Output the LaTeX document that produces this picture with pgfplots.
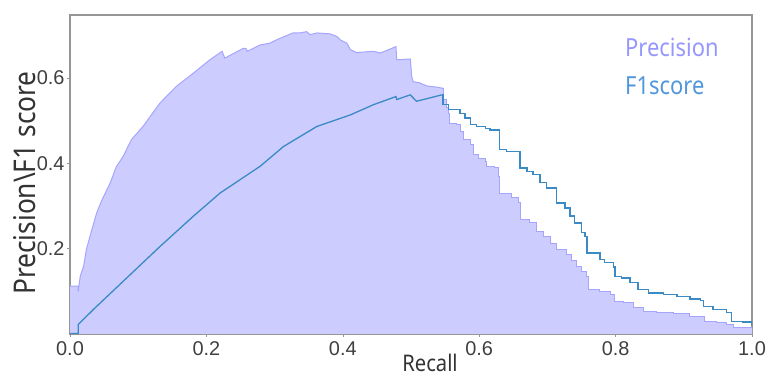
\documentclass[border=0pt]{standalone}
\usepackage{fontspec}
\setmainfont{Liberation Sans}
\newfontfamily\labfont[FakeStretch=0.88]{Noto Sans}
\usepackage{pgfplots}
\usepackage{pgfplotstable}
\pgfplotsset{compat=1.18}
\definecolor{precfill}{RGB}{204,204,255}
\definecolor{precedge}{RGB}{165,165,255}
\definecolor{f1line}{RGB}{58,138,198}
\definecolor{prectext}{RGB}{150,150,255}
\definecolor{f1text}{RGB}{80,150,220}
\definecolor{framec}{RGB}{150,150,150}
\pgfplotstableread{
r p
0 0.112
0.012 0.112
0.012 0.100
0.015 0.135
0.020 0.159
0.024 0.198
0.032 0.244
0.039 0.283
0.046 0.311
0.059 0.354
0.068 0.392
0.078 0.416
0.090 0.455
0.107 0.486
0.132 0.541
0.156 0.580
0.181 0.611
0.205 0.642
0.223 0.662
0.227 0.646
0.254 0.669
0.258 0.669
0.260 0.662
0.279 0.677
0.293 0.681
0.303 0.689
0.327 0.705
0.337 0.705
0.347 0.708
0.352 0.701
0.362 0.705
0.381 0.703
0.391 0.697
0.396 0.689
0.406 0.681
0.411 0.666
0.420 0.659
0.445 0.662
0.455 0.658
0.478 0.673
0.479 0.642
0.499 0.644
0.501 0.603
0.503 0.591
0.513 0.588
0.523 0.581
0.538 0.578
0.545 0.576
0.547 0.576
}\precA
\pgfplotstableread{
r p
0.545 0.576
0.547 0.549
0.552 0.530
0.555 0.517
0.557 0.494
0.567 0.490
0.572 0.474
0.577 0.455
0.587 0.443
0.591 0.420
0.599 0.412
0.609 0.404
0.611 0.393
0.623 0.389
0.628 0.369
0.630 0.330
0.648 0.319
0.657 0.307
0.660 0.268
0.674 0.260
0.684 0.240
0.694 0.229
0.704 0.213
0.713 0.198
0.728 0.186
0.735 0.172
0.743 0.159
0.750 0.147
0.758 0.135
0.760 0.104
0.777 0.100
0.792 0.092
0.799 0.077
0.811 0.073
0.826 0.061
0.841 0.053
0.860 0.050
0.885 0.047
0.909 0.042
0.924 0.040
0.931 0.030
0.948 0.026
0.963 0.022
0.973 0.015
1.0 0.012
}\precB
\begin{document}
\begin{tikzpicture}
\path[use as bounding box] (-70bp,-44bp) rectangle (700bp,334bp);
\begin{axis}[
  at={(0,0)}, anchor=south west,
  scale only axis, width=682bp, height=319bp,
  xmin=0, xmax=1, ymin=0, ymax=0.747,
  xtick={0,0.2,0.4,0.6,0.8,1.0},
  ytick={0.2,0.4,0.6},
  xticklabels={0.0,0.2,0.4,0.6,0.8,1.0},
  yticklabels={0.2,0.4,0.6},
  tick pos=left, tick align=outside,
  major tick length=3bp,
  axis line style={framec, line width=1.2bp},
  every tick/.style={framec},
  tick label style={font=\fontsize{20}{24}\selectfont, text=black!75},
  /pgf/number format/assume math mode=true,
  xticklabel style={yshift=-1bp},
  yticklabel style={xshift=1bp},
  clip=true,
]
% Precision fills (no edges)
\addplot[fill=precfill, draw=none] table[x=r, y=p] {\precA} \closedcycle;
\addplot[const plot, fill=precfill, draw=none] table[x=r, y=p] {\precB} \closedcycle;
% Precision edges
\addplot[draw=precedge, line width=1bp] table[x=r, y=p] {\precA};
\addplot[const plot, draw=precedge, line width=1bp] table[x=r, y=p] {\precB};
% F1, rising part
\addplot[draw=f1line, line width=1.3bp] coordinates {
(0,0.001)(0.012,0.001)(0.012,0.022)(0.034,0.057)(0.083,0.131)(0.132,0.205)
(0.181,0.276)(0.220,0.330)(0.249,0.361)(0.279,0.393)(0.313,0.439)(0.362,0.486)
(0.411,0.513)(0.445,0.537)(0.478,0.556)(0.479,0.549)(0.499,0.560)(0.508,0.545)
(0.528,0.553)(0.545,0.560)
};
% F1, falling part (steps)
\addplot[const plot, draw=f1line, line width=1.3bp] coordinates {
(0.545,0.560)(0.547,0.537)(0.555,0.525)(0.572,0.517)(0.579,0.506)(0.587,0.490)
(0.596,0.486)(0.609,0.482)(0.616,0.478)(0.630,0.432)(0.640,0.428)(0.660,0.389)
(0.670,0.381)(0.679,0.373)(0.689,0.354)(0.699,0.342)(0.713,0.307)(0.726,0.295)
(0.733,0.276)(0.740,0.260)(0.750,0.237)(0.755,0.229)(0.758,0.190)(0.777,0.174)
(0.784,0.167)(0.797,0.157)(0.799,0.135)(0.809,0.131)(0.821,0.120)(0.833,0.104)
(0.848,0.096)(0.870,0.092)(0.890,0.087)(0.909,0.082)(0.924,0.079)(0.929,0.065)
(0.943,0.057)(0.963,0.050)(0.970,0.030)(0.987,0.028)(1.0,0.022)
};
\end{axis}
\node[anchor=base, font=\labfont\fontsize{23}{27}\selectfont, text=black!80] at (360bp,-37bp) {Recall};
\node[rotate=90, anchor=center, font=\labfont\fontsize{30}{34}\selectfont, text=black!80] at (-45bp,151bp) {Precision\textbackslash F1 score};
\node[anchor=base west, font=\labfont\fontsize{25}{30}\selectfont, text=prectext, inner sep=0pt] at (555bp,277bp) {Precision};
\node[anchor=base west, font=\labfont\fontsize{25}{30}\selectfont, text=f1text, inner sep=0pt] at (555bp,239bp) {F1score};
\end{tikzpicture}
\end{document}
